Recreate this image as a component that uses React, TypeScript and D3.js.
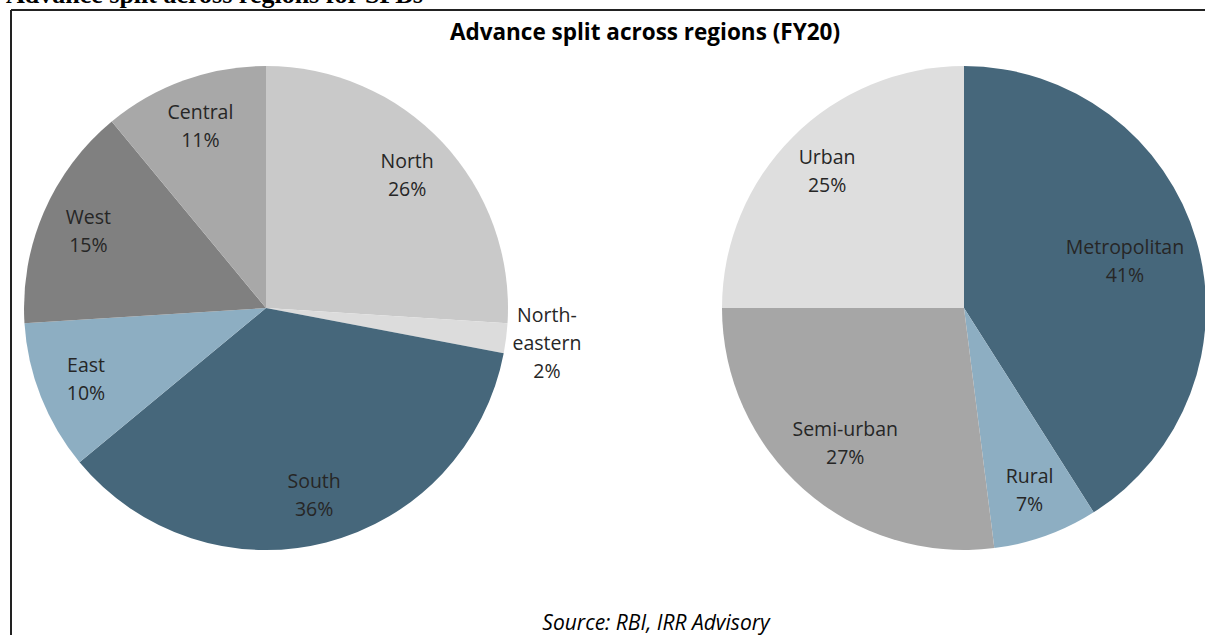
import * as d3 from 'd3';

interface Slice { label: string; value: number; color: string; }

const regionLabels = ['North', 'North-eastern', 'South', 'East', 'West', 'Central'];
const regionValues = [26, 2, 36, 10, 15, 11];
const regionColors = ['#c9c9c9', '#dcdcdc', '#46677b', '#8daec2', '#808080', '#a8a8a8'];

const areaLabels = ['Metropolitan', 'Rural', 'Semi-urban', 'Urban'];
const areaValues = [41, 7, 27, 25];
const areaColors = ['#46677b', '#8daec2', '#a6a6a6', '#dedede'];

const W = 1205;
const H = 635;
const R = 242;
const FONT = '"Open Sans", "Noto Sans", sans-serif';
const FS = 19.5;
const LINE = 28;

function build(labels: string[], values: number[], colors: string[]): Slice[] {
    return labels.map((l, i) => ({ label: l, value: values[i], color: colors[i] }));
}

function Pie({ data, cx, cy }: { data: Slice[]; cx: number; cy: number }) {
    const pie = d3.pie<Slice>().value(d => d.value).sort(null);
    const arc = d3.arc<d3.PieArcDatum<Slice>>().innerRadius(0).outerRadius(R);
    const arcs = pie(data);

    // excel-ish "best fit": start at 0.8r, pull inward until the label box fits in the disc
    const labelPos = (a: d3.PieArcDatum<Slice>) => {
        const mid = (a.startAngle + a.endAngle) / 2;
        const sx = Math.sin(mid), sy = -Math.cos(mid);
        const lines = a.data.label === 'North-eastern' ? ['North-', 'eastern'] : [a.data.label];
        const all = [...lines, `${a.data.value}%`];
        if (a.data.value < 5) {
            const d = R * 1.17;
            return { x: sx * d, y: sy * d, all };
        }
        const hw = Math.max(...all.map(t => t.length)) * FS * 0.27;
        const hh = (all.length * LINE) / 2;
        const lim = R * 0.98;
        const fits = (dd: number) => {
            const x = sx * dd, y = sy * dd;
            return [[-1, -1], [1, -1], [-1, 1], [1, 1]].every(([p, q]) => Math.hypot(x + p * hw, y + q * hh) <= lim);
        };
        let d = R * 0.8;
        while (d > R * 0.4 && !fits(d)) d -= 2;
        return { x: sx * d, y: sy * d, all };
    };

    return (
        <g transform={`translate(${cx},${cy})`}>
            {arcs.map(a => (
                <path key={a.data.label} d={arc(a)!} fill={a.data.color} />
            ))}
            {arcs.map(a => {
                const p = labelPos(a);
                const top = p.y - ((p.all.length - 1) * LINE) / 2;
                return (
                    <text key={a.data.label} textAnchor="middle" fontFamily={FONT} fontSize={FS} fill="#262626">
                        {p.all.map((t, i) => (
                            <tspan key={i} x={p.x} y={top + i * LINE} dy="0.35em">{t}</tspan>
                        ))}
                    </text>
                );
            })}
        </g>
    );
}

export default function App() {
    const regions = build(regionLabels, regionValues, regionColors);
    const areas = build(areaLabels, areaValues, areaColors);
    return (
        <svg width={W} height={H} style={{ position: 'fixed', left: 0, top: 0, background: '#fff' }}>
            <rect x={0} y={0} width={W} height={H} fill="#fff" />
            <text x={6} y={3} fontFamily='"Liberation Serif", serif' fontWeight={700} fontSize={26} fill="#000">
                Advance split across regions for SFBs
            </text>
            <line x1={11} y1={10} x2={W} y2={10} stroke="#222" strokeWidth={2} />
            <line x1={11} y1={10} x2={11} y2={H} stroke="#222" strokeWidth={2} />
            <text x={645} y={32} dy="0.35em" textAnchor="middle" fontFamily={FONT} fontWeight={700} fontSize={22.5} fill="#000">
                Advance split across regions (FY20)
            </text>
            <Pie data={regions} cx={266} cy={308} />
            <Pie data={areas} cx={964} cy={308} />
            <text x={656} y={623} dy="0.35em" textAnchor="middle" fontFamily={FONT} fontStyle="italic" fontSize={21} fill="#000">
                Source: RBI, IRR Advisory
            </text>
        </svg>
    );
}
